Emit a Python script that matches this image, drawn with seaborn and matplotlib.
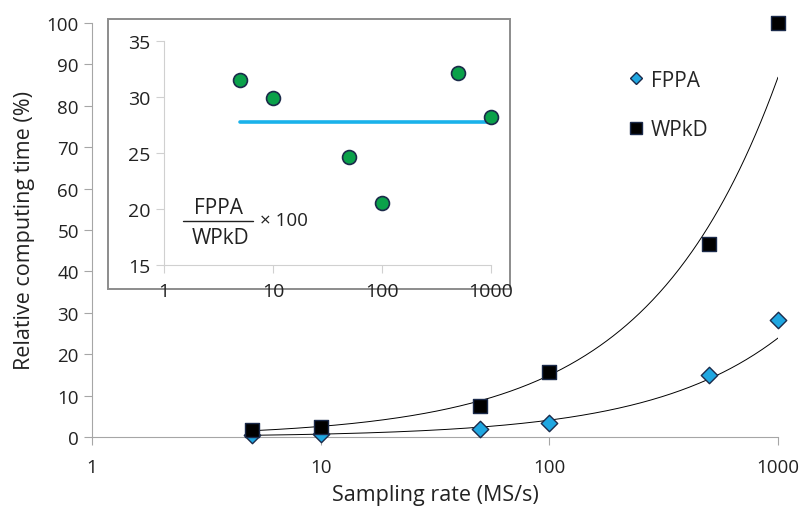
import matplotlib
matplotlib.use("Agg")
import matplotlib.pyplot as plt
from matplotlib.lines import Line2D
import seaborn as sns
import numpy as np
import pandas as pd

# Data
rates = [5, 10, 50, 100, 500, 1000]           # sampling rate (MS/s)
fppa = [0.5, 0.7, 1.9, 3.3, 14.9, 28.2]        # relative computing time (%)
wpkd = [1.8, 2.3, 7.5, 15.6, 46.5, 100.0]
ratio = [31.5, 29.9, 24.6, 20.5, 32.1, 28.2]   # FPPA / WPkD x 100

BLUE = "#1fa7e1"
NAVY = "#1b2a4a"
GREEN = "#0aa14a"
LINE_BLUE = "#1ab2ea"
GRAY = "#a6a6a6"
TXT = "#222222"

sns.set_style("white")
plt.rcParams["font.family"] = ["Open Sans", "DejaVu Sans"]

df = pd.DataFrame({
    "rate": rates * 2,
    "time": fppa + wpkd,
    "method": ["FPPA"] * len(rates) + ["WPkD"] * len(rates),
})

fig = plt.figure(figsize=(8.01, 5.10), dpi=100)
ax = fig.add_axes([92 / 801, 1 - 438 / 510, (778 - 92) / 801, (438 - 24) / 510])

# power-law trendlines (fit in log-log space)
xs = np.geomspace(rates[0], rates[-1], 400)
for vals in (wpkd, fppa):
    b, a = np.polyfit(np.log(rates), np.log(vals), 1)
    ax.plot(xs, np.exp(a) * xs ** b, color="black", lw=0.7, zorder=2)

sns.scatterplot(data=df[df.method == "FPPA"], x="rate", y="time", color=BLUE,
                marker="D", s=70, edgecolor=NAVY, linewidth=1.0, ax=ax, zorder=3,
                legend=False)
sns.scatterplot(data=df[df.method == "WPkD"], x="rate", y="time", color="black",
                marker="s", s=100, edgecolor=NAVY, linewidth=1.0, ax=ax, zorder=3,
                legend=False)

ax.set_xscale("log")
ax.set_xlim(1, 1000)
ax.set_ylim(0, 100)
ax.set_xticks([1, 10, 100, 1000])
ax.set_xticklabels(["1", "10", "100", "1000"])
ax.xaxis.set_minor_locator(matplotlib.ticker.NullLocator())
ax.set_yticks(range(0, 101, 10))
ax.set_xlabel("Sampling rate (MS/s)", fontsize=15.5, color=TXT, labelpad=6)
ax.set_ylabel("Relative computing time (%)", fontsize=15.5, color=TXT, labelpad=8)
ax.tick_params(axis="both", labelsize=13.5, colors=GRAY, labelcolor=TXT,
               length=6, width=0.8, direction="out", bottom=True, left=True)
ax.tick_params(axis="x", pad=9)
for side in ("top", "right"):
    ax.spines[side].set_visible(False)
for side in ("left", "bottom"):
    ax.spines[side].set_color(GRAY)
    ax.spines[side].set_linewidth(0.8)
for c in ax.collections:
    c.set_clip_on(False)

handles = [
    Line2D([], [], marker="D", ls="", color=BLUE, markeredgecolor=NAVY, markersize=6),
    Line2D([], [], marker="s", ls="", color="black", markeredgecolor=NAVY, markersize=8),
]
fig.legend(handles, ["FPPA", "WPkD"], loc="upper left",
           bbox_to_anchor=(607 / 801, 1 - 52 / 510), frameon=False,
           fontsize=15, handletextpad=0.2, labelspacing=1.35, handlelength=1.0)

# inset frame
fig.patches.append(plt.Rectangle((108 / 801, 1 - 290 / 510), (510 - 108) / 801,
                                 (290 - 20) / 510, transform=fig.transFigure,
                                 facecolor="white", edgecolor="#8c8c8c", lw=1.4,
                                 zorder=5))

ax_in = fig.add_axes([164 / 801, 1 - 266 / 510, (491 - 164) / 801, (266 - 42) / 510],
                     zorder=6)
ax_in.patch.set_alpha(0)
mean_ratio = np.mean(ratio)
ax_in.plot([rates[0], rates[-1]], [mean_ratio, mean_ratio], color=LINE_BLUE, lw=2.6,
           zorder=2)
sns.scatterplot(x=rates, y=ratio, color=GREEN, edgecolor=NAVY, linewidth=1.2,
                s=100, ax=ax_in, zorder=3, legend=False)
ax_in.set_xscale("log")
ax_in.set_xlim(1, 1000)
ax_in.set_ylim(15, 35)
ax_in.set_xticks([1, 10, 100, 1000])
ax_in.set_xticklabels(["1", "10", "100", "1000"])
ax_in.xaxis.set_minor_locator(matplotlib.ticker.NullLocator())
ax_in.set_yticks(range(15, 36, 5))
ax_in.tick_params(axis="both", labelsize=14, colors="#d0d0d0", labelcolor=TXT,
                  length=6, width=0.8, direction="out", bottom=True, left=True)
ax_in.tick_params(axis="x", pad=6)
for side in ("top", "right"):
    ax_in.spines[side].set_visible(False)
for side in ("left", "bottom"):
    ax_in.spines[side].set_color("#d0d0d0")
    ax_in.spines[side].set_linewidth(0.8)
for c in ax_in.collections:
    c.set_clip_on(False)

# ratio formula label
fig.text(219 / 801, 1 - 209 / 510, "FPPA", fontsize=15, ha="center", va="center",
         color=TXT, zorder=7)
fig.text(221 / 801, 1 - 238 / 510, "WPkD", fontsize=15, ha="center", va="center",
         color=TXT, zorder=7)
fig.add_artist(Line2D([183 / 801, 253 / 801], [1 - 222 / 510, 1 - 222 / 510],
                      color=TXT, lw=1.0, zorder=7))
fig.text(260 / 801, 1 - 221 / 510, "× 100", fontsize=13.5, ha="left", va="center",
         color=TXT, zorder=7)

fig.savefig("out.png", dpi=100)
